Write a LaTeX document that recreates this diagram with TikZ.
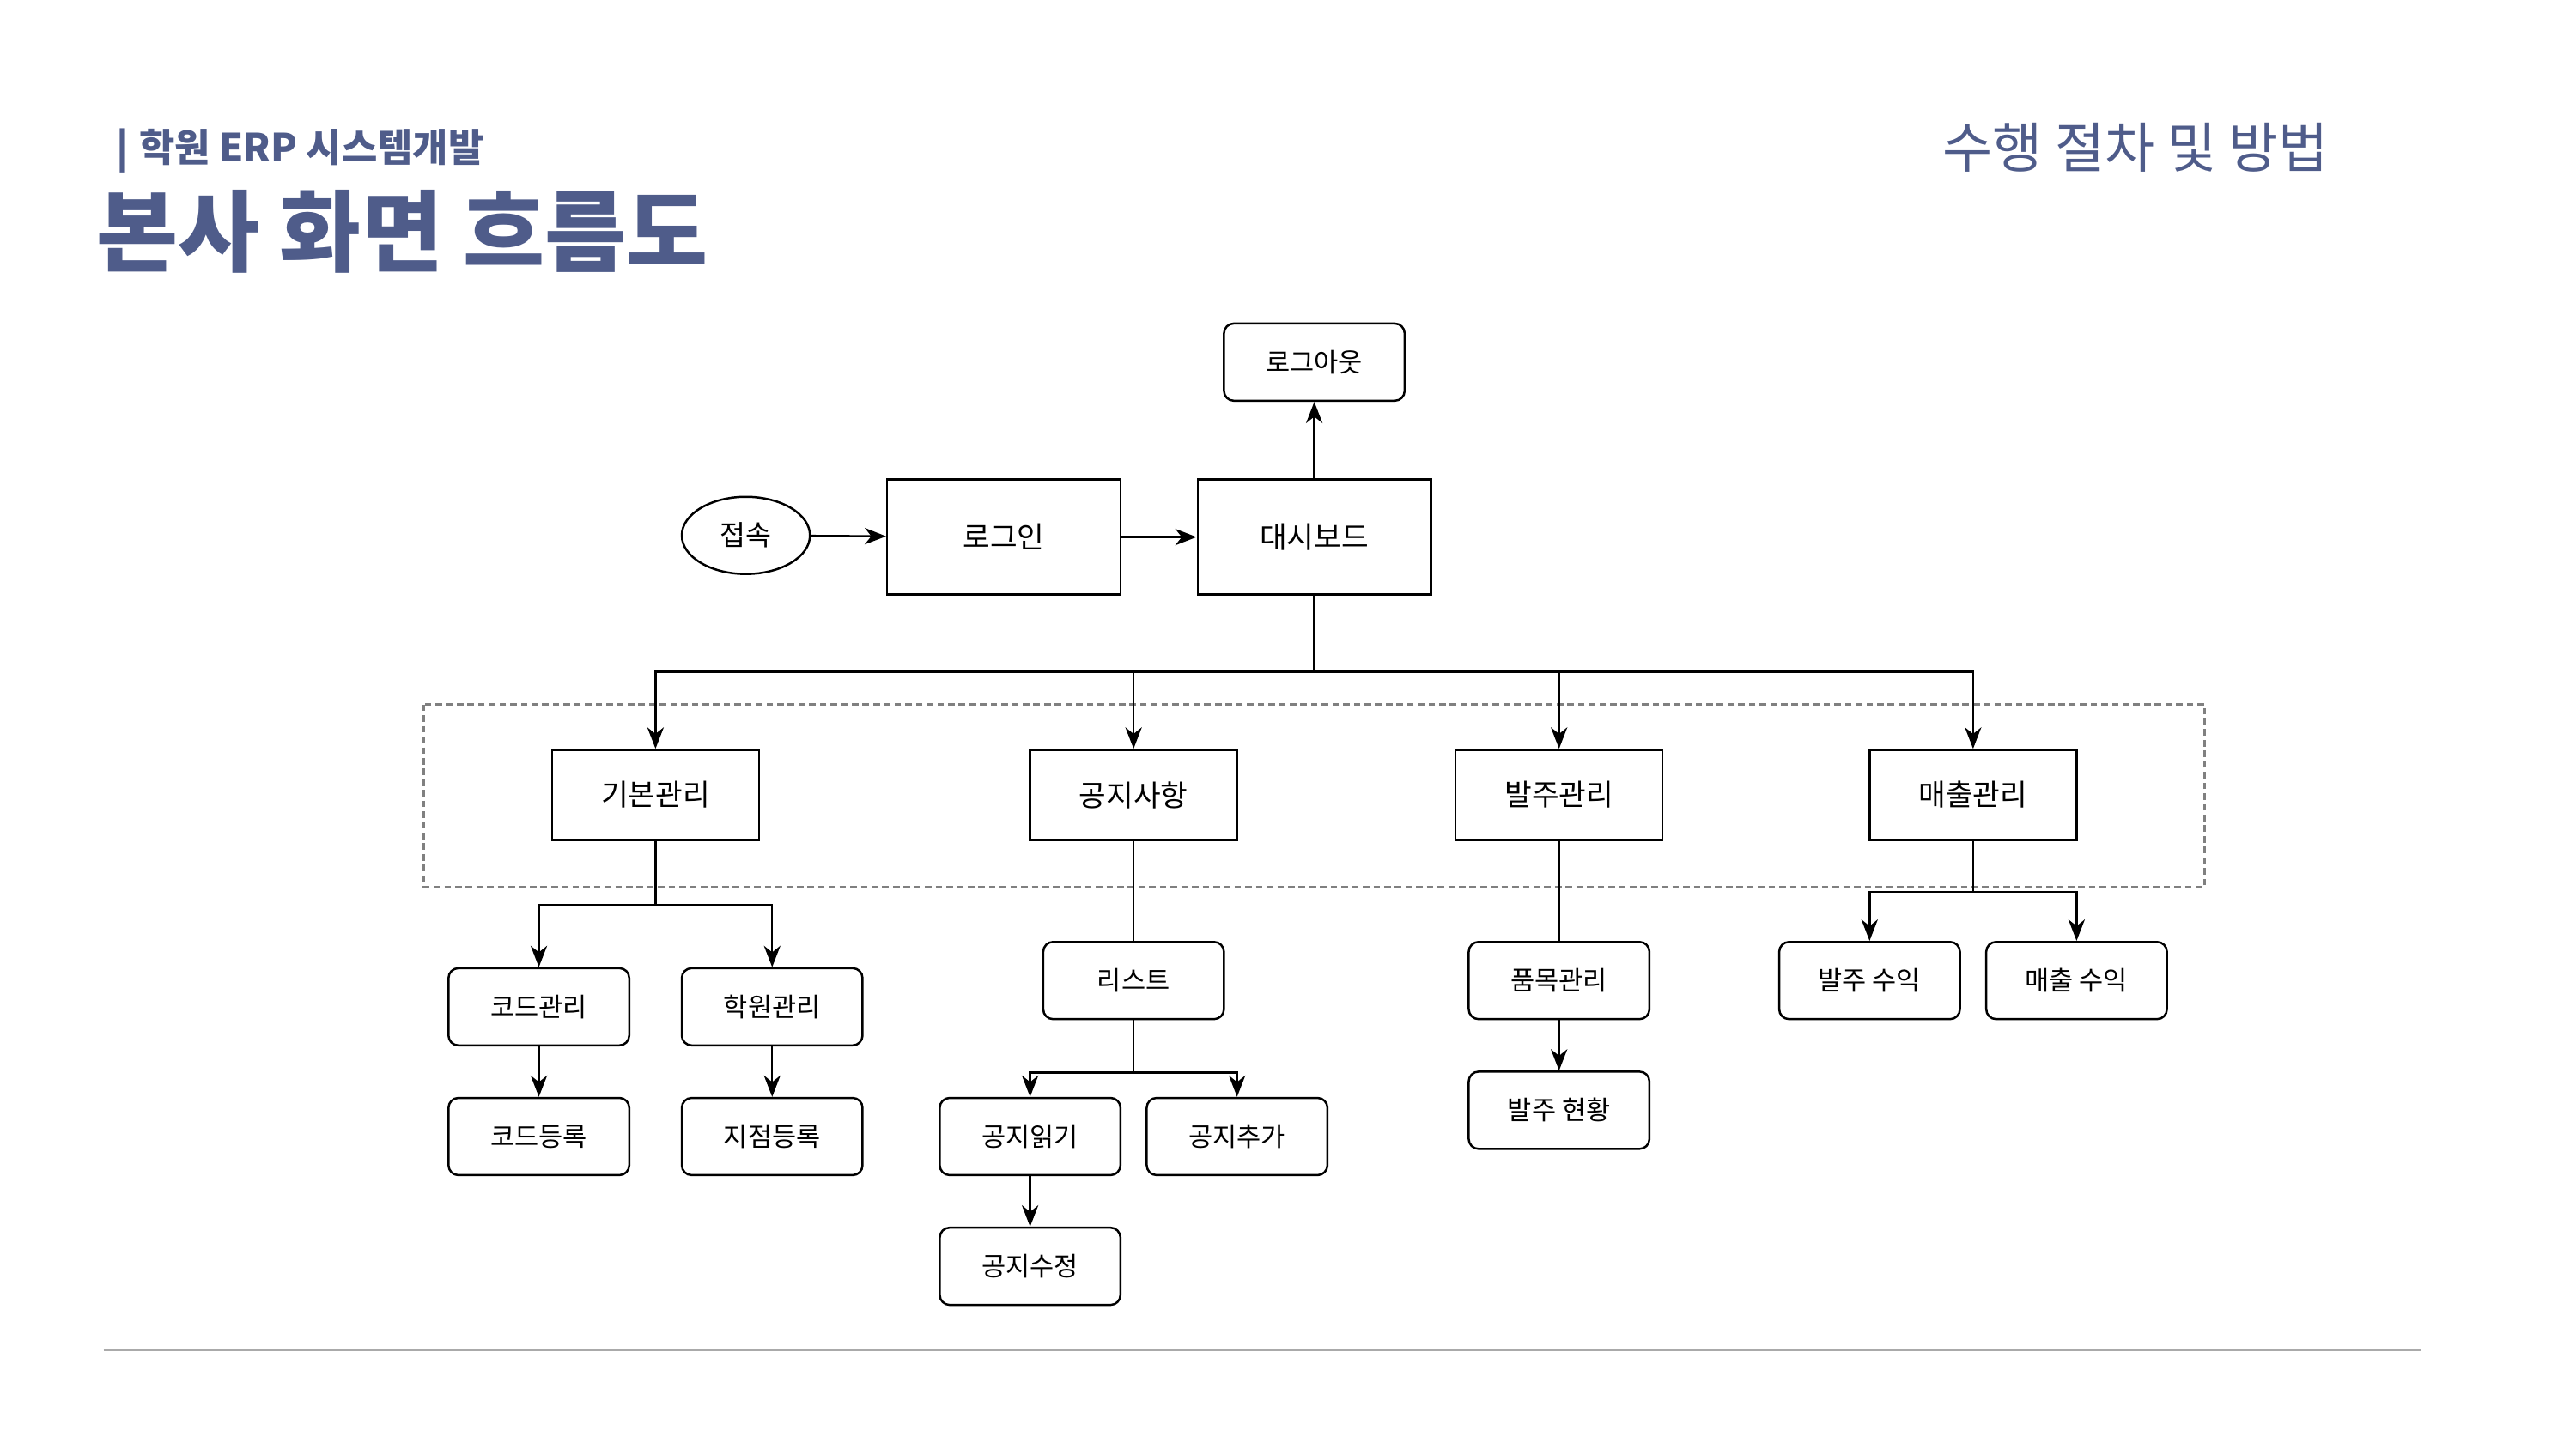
\documentclass[tikz,border=0pt]{standalone}
\usepackage{fontspec}
\setmainfont{Noto Sans CJK KR}
\usetikzlibrary{arrows.meta,shapes.geometric,calc}
\definecolor{titleblue}{RGB}{79,92,138}
\definecolor{framegray}{RGB}{128,128,128}
\definecolor{rulegray}{RGB}{170,170,170}

\begin{document}
\begin{tikzpicture}[x=1pt,y=-1pt,
  line width=1.3pt,
  bigbox/.style={draw,line width=1.3pt,minimum width=142pt,minimum height=70pt,inner sep=0pt,
    font=\fontsize{18}{20}\selectfont},
  menubox/.style={draw,line width=1.3pt,minimum width=126pt,minimum height=55pt,inner sep=0pt,
    font=\fontsize{18}{20}\selectfont},
  leafbox/.style={draw,line width=1.3pt,rounded corners=6pt,minimum width=110pt,minimum height=47pt,inner sep=0pt,
    font=\fontsize{16}{18}\selectfont},
  startnode/.style={draw,line width=1.3pt,ellipse,minimum width=78pt,minimum height=47pt,inner sep=0pt,
    font=\fontsize{17}{19}\selectfont},
  arr/.style={-{Stealth[length=13pt,width=10pt,inset=4pt]}},
  link/.style={line width=1.3pt},
]
% canvas
\useasboundingbox (0,0) rectangle (1568,882);

% headings
\node[anchor=west,text=titleblue,font=\fontsize{23.5}{26}\selectfont\bfseries,inner sep=0pt] (sub) at (70,92) {|\hspace{7pt}학원 ERP 시스템개발};
\node[anchor=west,text=titleblue,font=\fontsize{54}{58}\selectfont\bfseries,inner sep=0pt] (title) at (58,141) {본사 화면 흐름도};
\node[anchor=east,text=titleblue,font=\fontsize{33}{36}\selectfont,inner sep=0pt] (proc) at (1418,90) {수행 절차 및 방법};

% menu group frame
\draw[framegray,line width=1.6pt,dash pattern=on 4pt off 2.5pt] (258,429) rectangle (1342,540);

% top flow
\node[startnode] (conn) at (454,326) {접속};
\node[bigbox] (login) at (611,327) {로그인};
\node[bigbox] (dash) at (800,327) {대시보드};
\node[leafbox] (logout) at (800,220.5) {로그아웃};

% main menus
\node[menubox] (base) at (399,484) {기본관리};
\node[menubox] (notice) at (690,484) {공지사항};
\node[menubox] (order) at (949,484) {발주관리};
\node[menubox] (sales) at (1201,484) {매출관리};

% sub screens
\node[leafbox] (code) at (328,613) {코드관리};
\node[leafbox] (academy) at (470,613) {학원관리};
\node[leafbox] (codereg) at (328,692) {코드등록};
\node[leafbox] (branchreg) at (470,692) {지점등록};

\node[leafbox] (list) at (690,597) {리스트};
\node[leafbox] (read) at (627,692) {공지읽기};
\node[leafbox] (add) at (753,692) {공지추가};
\node[leafbox] (edit) at (627,771) {공지수정};

\node[leafbox] (item) at (949,597) {품목관리};
\node[leafbox] (status) at (949,676) {발주 현황};

\node[leafbox] (orderprofit) at (1138,597) {발주 수익};
\node[leafbox] (salesprofit) at (1264,597) {매출 수익};

% bottom rule
\draw[rulegray,line width=1.2pt] (63,822) -- (1474,822);

% connectors
\draw[arr] (conn) -- (login);
\draw[arr] (login) -- (dash);
\draw[arr] (dash) -- (logout);

\coordinate (bus) at (800,409);
\draw[arr] (dash.south) -- (bus) -| (base.north);
\draw[arr] (bus) -| (notice.north);
\draw[arr] (bus) -| (order.north);
\draw[arr] (bus) -| (sales.north);

\coordinate (basebus) at (399,551);
\draw[arr] (base.south) -- (basebus) -| (code.north);
\draw[arr] (basebus) -| (academy.north);
\draw[arr] (code) -- (codereg);
\draw[arr] (academy) -- (branchreg);

\draw[link] (notice) -- (list);
\coordinate (listbus) at (690,653);
\draw[arr] (list.south) -- (listbus) -| (read.north);
\draw[arr] (listbus) -| (add.north);
\draw[arr] (read) -- (edit);

\draw[link] (order) -- (item);
\draw[arr] (item) -- (status);

\coordinate (salesbus) at (1201,543);
\draw[arr] (sales.south) -- (salesbus) -| (orderprofit.north);
\draw[arr] (salesbus) -| (salesprofit.north);
\end{tikzpicture}
\end{document}
